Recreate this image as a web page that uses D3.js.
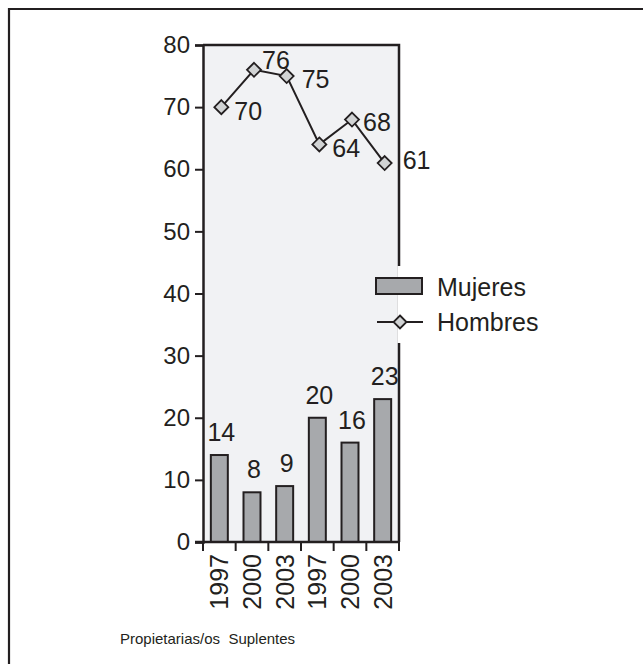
<!DOCTYPE html>
<html>
<head>
<meta charset="utf-8">
<script src="https://cdn.jsdelivr.net/npm/d3@7"></script>
<style>
  html, body { margin: 0; padding: 0; background: #fff; }
  svg text { font-family: "Liberation Sans", Arial, Helvetica, sans-serif; fill: #231f20; }
</style>
</head>
<body>
<svg id="chart" width="643" height="664"></svg>
<script>
// Category groups: titulares (propietarias/os) then suplentes
const categories = ["P1997", "P2000", "P2003", "S1997", "S2000", "S2003"];
const yearLabels = ["1997", "2000", "2003", "1997", "2000", "2003"];
const mujeres = [14, 8, 9, 20, 16, 23];
const hombres = [70, 76, 75, 64, 68, 61];
const yTicks = [0, 10, 20, 30, 40, 50, 60, 70, 80];
const seriesNames = ["Mujeres", "Hombres"];
const groupCaption = "Propietarias/os  Suplentes";

const ink = "#231f20";
const barFill = "#a7a9ac";
const markerFill = "#d1d3d4";
const plotBg = "#f1f2f4";

const svg = d3.select("#chart");

// outer frame (open on right and bottom edges of the page)
svg.append("path")
  .attr("d", "M9,700 L9,9 L700,9")
  .attr("fill", "none").attr("stroke", ink).attr("stroke-width", 2.2);

const plot = { left: 203, right: 399, top: 45, bottom: 542 };

const x = d3.scaleBand().domain(categories)
  .range([plot.left, plot.right]).paddingInner(0.48).paddingOuter(0.24);
const xEdge = d3.scaleLinear().domain([0, categories.length]).range([plot.left, plot.right]);
const y = d3.scaleLinear().domain([0, 80]).range([plot.bottom, plot.top]);
const cx = i => x(categories[i]) + x.bandwidth() / 2 + 2;

// plot background
svg.append("rect")
  .attr("x", plot.left).attr("y", plot.top)
  .attr("width", plot.right - plot.left).attr("height", plot.bottom - plot.top)
  .attr("fill", plotBg);

// bars
svg.append("g").selectAll("rect").data(mujeres).join("rect")
  .attr("x", (d, i) => x(categories[i]))
  .attr("y", d => y(d))
  .attr("width", x.bandwidth())
  .attr("height", d => y(0) - y(d))
  .attr("fill", barFill).attr("stroke", ink).attr("stroke-width", 2);

// bar value labels
svg.append("g").selectAll("text").data(mujeres).join("text")
  .attr("x", (d, i) => cx(i))
  .attr("y", d => y(d) - 14)
  .attr("text-anchor", "middle")
  .attr("font-size", 25)
  .text(d => d);

// plot frame: right and top sides
svg.append("path")
  .attr("d", `M${plot.left},${plot.top} L${plot.right},${plot.top} L${plot.right},${plot.bottom}`)
  .attr("fill", "none").attr("stroke", ink).attr("stroke-width", 2.5);

// y axis
const yAxis = d3.axisLeft(y).tickValues(yTicks).tickSize(8).tickPadding(5);
const gy = svg.append("g").attr("transform", `translate(${plot.left},0)`).call(yAxis);
gy.select(".domain").attr("stroke", ink).attr("stroke-width", 2.5);
gy.selectAll(".tick line").attr("stroke", ink).attr("stroke-width", 2);
gy.selectAll(".tick text").attr("font-size", 24).attr("fill", ink)
  .attr("font-family", "Liberation Sans, Arial, sans-serif");

// x axis baseline with boundary ticks
svg.append("line")
  .attr("x1", plot.left - 8).attr("x2", plot.right + 1)
  .attr("y1", plot.bottom).attr("y2", plot.bottom)
  .attr("stroke", ink).attr("stroke-width", 2.5);
svg.append("g").selectAll("line").data(d3.range(categories.length + 1)).join("line")
  .attr("x1", d => xEdge(d)).attr("x2", d => xEdge(d))
  .attr("y1", plot.bottom).attr("y2", plot.bottom + 9)
  .attr("stroke", ink).attr("stroke-width", 2);

// rotated year labels
svg.append("g").selectAll("text").data(yearLabels).join("text")
  .attr("transform", (d, i) =>
    `translate(${x(categories[i]) + x.bandwidth() / 2 + 9},${plot.bottom + 12}) rotate(-90)`)
  .attr("text-anchor", "end")
  .attr("font-size", 25)
  .text(d => d);

// men line
const line = d3.line()
  .x((d, i) => cx(i))
  .y(d => y(d));
svg.append("path").datum(hombres)
  .attr("d", line)
  .attr("fill", "none").attr("stroke", ink).attr("stroke-width", 2);

const diamond = s => `M0,${-s} L${s},0 L0,${s} L${-s},0 Z`;
svg.append("g").selectAll("path").data(hombres).join("path")
  .attr("transform", (d, i) => `translate(${cx(i)},${y(d)})`)
  .attr("d", diamond(7))
  .attr("fill", markerFill).attr("stroke", ink).attr("stroke-width", 1.8);

// men value labels: right of each marker, the peak label sits above
const lineLabelOffset = [[13, 13], [8, -1], [15, 12], [13, 13], [11, 11], [18, 6]];
svg.append("g").selectAll("text").data(hombres).join("text")
  .attr("x", (d, i) => cx(i) + lineLabelOffset[i][0])
  .attr("y", (d, i) => y(d) + lineLabelOffset[i][1])
  .attr("font-size", 25)
  .text(d => d);

// legend
const lg = svg.append("g");
lg.append("rect").attr("x", plot.right - 1.5).attr("y", 266).attr("width", 170).attr("height", 77)
  .attr("fill", "#fff");
lg.append("rect").attr("x", 376).attr("y", 278).attr("width", 46).attr("height", 16)
  .attr("fill", barFill).attr("stroke", ink).attr("stroke-width", 2);
lg.append("line").attr("x1", 377).attr("x2", 423).attr("y1", 322).attr("y2", 322)
  .attr("stroke", ink).attr("stroke-width", 2);
lg.append("path").attr("transform", "translate(400,322)").attr("d", diamond(6.5))
  .attr("fill", markerFill).attr("stroke", ink).attr("stroke-width", 1.8);
lg.append("text").attr("x", 437).attr("y", 296).attr("font-size", 25).text(seriesNames[0]);
lg.append("text").attr("x", 437).attr("y", 331).attr("font-size", 25).text(seriesNames[1]);

// group caption
svg.append("text")
  .attr("x", 120).attr("y", 644)
  .attr("font-size", 15)
  .attr("xml:space", "preserve")
  .style("white-space", "pre")
  .text(groupCaption);
</script>
</body>
</html>
